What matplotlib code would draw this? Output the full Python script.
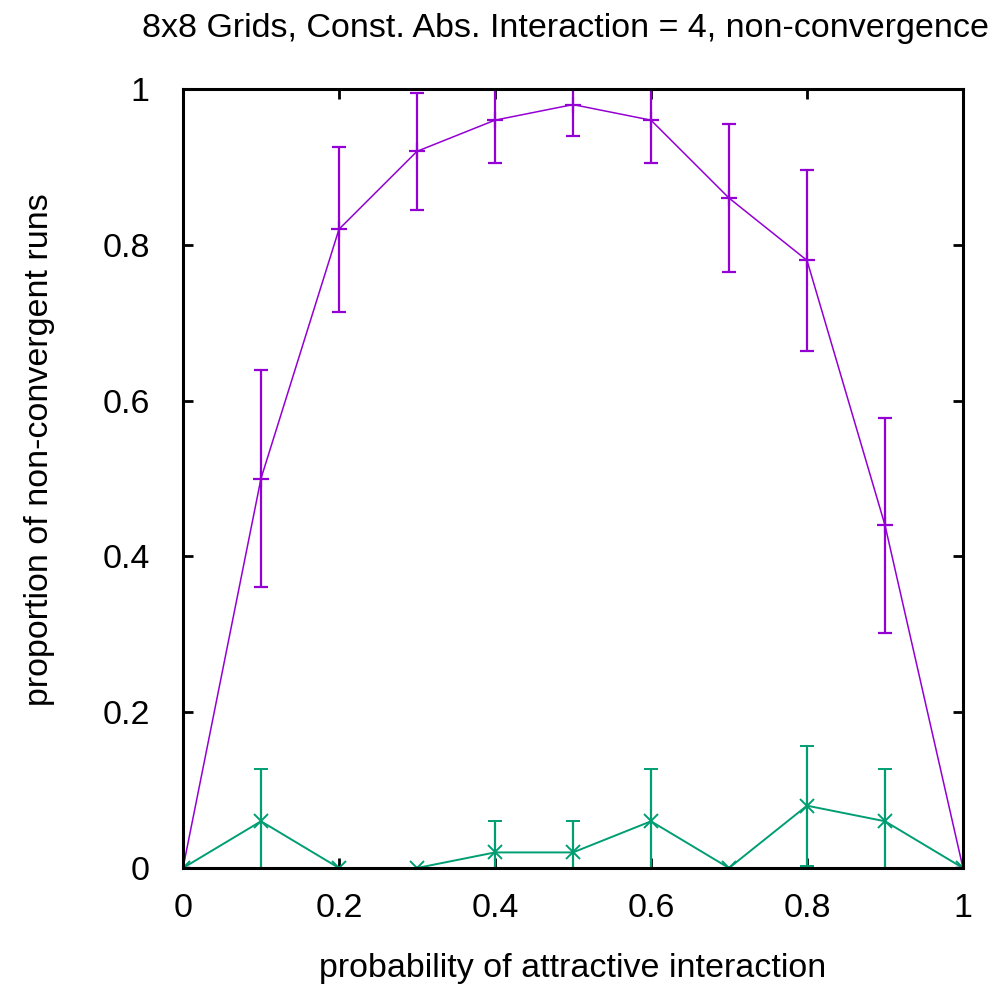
import numpy as np
import matplotlib.pyplot as plt

# data
p = [0.0, 0.1, 0.2, 0.3, 0.4, 0.5, 0.6, 0.7, 0.8, 0.9, 1.0]

purple_y = [0.0, 0.50, 0.82, 0.92, 0.96, 0.98, 0.96, 0.86, 0.78, 0.44, 0.0]
purple_err = [0.0, 0.139, 0.106, 0.075, 0.055, 0.04, 0.055, 0.095, 0.116, 0.138, 0.0]

green_y = [0.0, 0.06, 0.0, 0.0, 0.02, 0.02, 0.06, 0.0, 0.08, 0.06, 0.0]
green_err = [0.0, 0.067, 0.0, 0.0, 0.04, 0.04, 0.067, 0.0, 0.077, 0.067, 0.0]

xticks = [0, 0.2, 0.4, 0.6, 0.8, 1]
xticklabels = ['0', '0.2', '0.4', '0.6', '0.8', '1']
yticks = [0, 0.2, 0.4, 0.6, 0.8, 1]
yticklabels = ['0', '0.2', '0.4', '0.6', '0.8', '1']

plt.rcParams['font.family'] = ['Liberation Sans', 'DejaVu Sans']
fs = 24.5

fig = plt.figure(figsize=(9.97, 9.98), dpi=100)
ax = fig.add_axes([183/997, 130/998, 780/997, 779/998])

purple = '#9400d3'
green = '#009e73'

ax.errorbar(p, purple_y, yerr=purple_err, color=purple, lw=1.1, elinewidth=1.6,
            capsize=5, capthick=1.6, marker='+', ms=11, mew=1.6)
ax.errorbar(p, green_y, yerr=green_err, color=green, lw=1.4, elinewidth=1.6,
            capsize=5, capthick=1.6, marker='x', ms=10, mew=1.4)

ax.set_xlim(0, 1)
ax.set_ylim(0, 1)
ax.set_xticks(xticks)
ax.set_xticklabels(xticklabels)
ax.set_yticks(yticks)
ax.set_yticklabels(yticklabels)

for s in ax.spines.values():
    s.set_linewidth(2.2)
ax.tick_params(direction='in', length=7, width=2, top=True, right=True,
               labelsize=fs, colors='black')
ax.tick_params(axis='x', pad=18)
ax.tick_params(axis='y', pad=24)

fig.text(565/997, 1 - 28/998, '8x8 Grids, Const. Abs. Interaction = 4, non-convergence',
         fontsize=fs, ha='center', va='center')
fig.text(573/997, 1 - 969/998, 'probability of attractive interaction',
         fontsize=fs, ha='center', va='center')
fig.text(40/997, 1 - 450/998, 'proportion of non-convergent runs',
         fontsize=fs, ha='center', va='center', rotation=90)

fig.savefig('out.png', dpi=100)
